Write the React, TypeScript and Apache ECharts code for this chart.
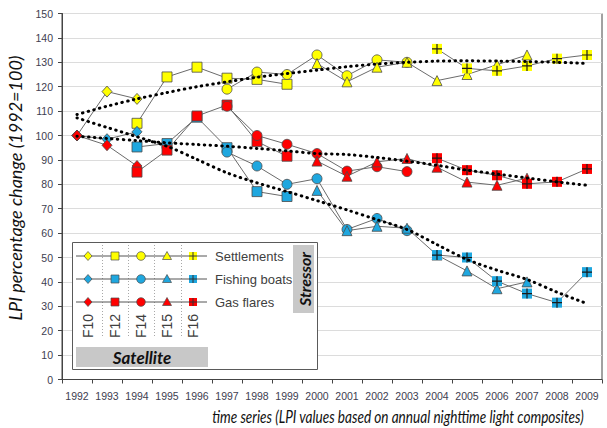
import React, { useEffect, useRef } from "react";
import * as echarts from "echarts";

const years = ["1992","1993","1994","1995","1996","1997","1998","1999","2000","2001","2002","2003","2004","2005","2006","2007","2008","2009"];
const yTicks = { min: 0, max: 150, interval: 10 };
const _ = null;

// Settlements
const setF10 = [100, 118, 115, _, _, _, _, _, _, _, _, _, _, _, _, _, _, _];
const setF12 = [_, _, 105, 124, 128, 123.5, 123, 121, _, _, _, _, _, _, _, _, _, _];
const setF14 = [_, _, _, _, _, 119, 126, 125, 133, 124.5, 131, 130, _, _, _, _, _, _];
const setF15 = [_, _, _, _, _, _, _, _, 129.5, 122, 128, 130, 122.5, 125, 129, 133, _, _];
const setF16 = [_, _, _, _, _, _, _, _, _, _, _, _, 135.5, 127.5, 126.5, 128.5, 131.5, 133];
// Fishing boats
const fishF10 = [100, 98.5, 101.5, _, _, _, _, _, _, _, _, _, _, _, _, _, _, _];
const fishF12 = [_, _, 95.3, 96.7, 107.5, 95, 77, 75, _, _, _, _, _, _, _, _, _, _];
const fishF14 = [_, _, _, _, _, 93.2, 87.5, 80, 82.3, 61.5, 66, 61, _, _, _, _, _, _];
const fishF15 = [_, _, _, _, _, _, _, _, 77.5, 61, 62.8, 62, 51, 44.5, 37.2, 40, _, _];
const fishF16 = [_, _, _, _, _, _, _, _, _, _, _, _, 51, 50, 40.3, 35.2, 31.5, 44];
// Gas flares
const gasF10 = [100, 96, 87.5, _, _, _, _, _, _, _, _, _, _, _, _, _, _, _];
const gasF12 = [_, _, 85, 94, 108, 112.5, 97.5, 91.5, _, _, _, _, _, _, _, _, _, _];
const gasF14 = [_, _, _, _, _, 112, 100, 96.4, 92.6, 85.4, 87.2, 85.2, _, _, _, _, _, _];
const gasF15 = [_, _, _, _, _, _, _, _, 89.5, 83.3, 89.2, 90.6, 87, 80.9, 79.6, 82.5, _, _];
const gasF16 = [_, _, _, _, _, _, _, _, _, _, _, _, 90.7, 85.8, 83.7, 80.2, 81, 86.3];
// Trend lines
const setTrend = [108.6, 112, 115, 117.6, 120, 122, 123.9, 125.4, 126.8, 128.2, 129.3, 130, 130.5, 130.6, 130.5, 130.3, 130, 129.5];
const fishTrend = [107.2, 103.3, 99.5, 95.6, 90.2, 84.7, 80.6, 77, 73.3, 69.5, 65.5, 61.5, 55.3, 49.2, 44.8, 41, 35.8, 31.1];
const gasTrend = [99.7, 98.8, 97.9, 97, 96.3, 95.6, 94.7, 93.7, 92.6, 92.2, 91, 89.5, 87.8, 85.8, 84.2, 82.6, 81, 79.6];

const stressors = ["Settlements", "Fishing boats", "Gas flares"];
const satellites = ["F10", "F12", "F14", "F15", "F16"];

const YELLOW = "#ffff00";
const BLUE = "#1fa7df";
const RED = "#ff0000";
const CROSS = "path://M4.4,0H5.6V4.4H10V5.6H5.6V10H4.4V5.6H0V4.4H4.4Z";

function mk(name: string, data: any[], symbol: string, size: any, color: string, border = true) {
  return {
    type: "line", name, data, symbol, symbolSize: size, showSymbol: true, silent: true,
    lineStyle: { color: "#6b6b6b", width: 1 },
    itemStyle: { color, borderColor: border ? "#4a4a4a" : color, borderWidth: border ? 0.8 : 0 },
    z: 3,
  };
}
function cross(name: string, data: any[]) {
  return {
    type: "line", name: name + "+", data, symbol: CROSS, symbolSize: 10, showSymbol: true, silent: true,
    lineStyle: { width: 0, opacity: 0 }, itemStyle: { color: "#1a1a1a", borderWidth: 0 }, z: 4,
  };
}
function group(name: string, color: string, f10: any[], f12: any[], f14: any[], f15: any[], f16: any[]) {
  return [
    mk(name + " F10", f10, "diamond", [10, 11], color),
    mk(name + " F12", f12, "rect", 10, color),
    mk(name + " F14", f14, "circle", 10, color),
    mk(name + " F15", f15, "triangle", 10, color),
    mk(name + " F16", f16, "rect", 10, color, false),
    cross(name + " F16", f16),
  ];
}
function trend(name: string, data: number[]) {
  return {
    type: "line", name, data, symbol: "none", smooth: 0.3, silent: true, z: 5,
    lineStyle: { color: "#000", width: 3, type: [0.5, 5.3], cap: "round" },
  };
}

function legendGraphics() {
  const els: any[] = [];
  const bx = 72, by = 242;
  els.push({ type: "rect", shape: { x: bx + 0.5, y: by + 0.5, width: 245, height: 127 }, style: { fill: "#fff", stroke: "#5a5a5a", lineWidth: 1 }, z: 10 });
  const rows = [256, 279, 302];
  const colors = [YELLOW, BLUE, RED];
  const cols = [88, 115, 141, 167, 193];
  [102, 128, 154, 181].forEach((x) => {
    els.push({ type: "line", shape: { x1: x + 0.5, y1: 245, x2: x + 0.5, y2: 338 }, style: { stroke: "#a8a8a8", lineWidth: 1, lineDash: [1, 2] }, z: 11 });
  });
  rows.forEach((y, i) => {
    const c = colors[i];
    els.push({ type: "line", shape: { x1: 76, y1: y, x2: 207, y2: y }, style: { stroke: "#555", lineWidth: 1 }, z: 12 });
    const st = { fill: c, stroke: "#4a4a4a", lineWidth: 0.7 };
    let x = cols[0];
    els.push({ type: "polygon", shape: { points: [[x, y - 4.5], [x + 4, y], [x, y + 4.5], [x - 4, y]] }, style: st, z: 13 });
    x = cols[1];
    els.push({ type: "rect", shape: { x: x - 4, y: y - 4, width: 8, height: 8 }, style: st, z: 13 });
    x = cols[2];
    els.push({ type: "circle", shape: { cx: x, cy: y, r: 4.3 }, style: st, z: 13 });
    x = cols[3];
    els.push({ type: "polygon", shape: { points: [[x, y - 4.5], [x + 4.5, y + 3.5], [x - 4.5, y + 3.5]] }, style: st, z: 13 });
    x = cols[4];
    els.push({ type: "rect", shape: { x: x - 4, y: y - 4, width: 8, height: 8 }, style: { fill: c }, z: 13 });
    els.push({ type: "rect", shape: { x: x - 0.5, y: y - 4, width: 1, height: 8 }, style: { fill: "#333" }, z: 14 });
    els.push({ type: "rect", shape: { x: x - 4, y: y - 0.5, width: 8, height: 1 }, style: { fill: "#333" }, z: 14 });
    els.push({ type: "text", x: 215, y, style: { text: stressors[i], fill: "#404040", font: "13px 'Liberation Sans', Arial, sans-serif", verticalAlign: "middle", align: "left" }, z: 13 });
  });
  cols.forEach((x, i) => {
    els.push({ type: "text", x, y: 326, rotation: Math.PI / 2, style: { text: satellites[i], fill: "#404040", font: "14px 'Liberation Sans', Arial, sans-serif", align: "center", verticalAlign: "middle", backgroundColor: "#fff" }, z: 13 });
  });
  els.push({ type: "rect", shape: { x: 293, y: 245, width: 21, height: 68 }, style: { fill: "#c8c8c8" }, z: 12 });
  els.push({ type: "text", x: 304, y: 279, rotation: Math.PI / 2, style: { text: "Stressor", fill: "#111", font: "italic bold 16px Lato, 'Open Sans', sans-serif", align: "center", verticalAlign: "middle" }, z: 13 });
  els.push({ type: "rect", shape: { x: 76, y: 347, width: 132, height: 20 }, style: { fill: "#c8c8c8" }, z: 12 });
  els.push({ type: "text", x: 142, y: 357, style: { text: "Satellite", fill: "#111", font: "italic bold 17px Lato, 'Open Sans', sans-serif", align: "center", verticalAlign: "middle" }, z: 13 });
  return els;
}

export default function App() {
  const ref = useRef<HTMLDivElement>(null);
  useEffect(() => {
    if (!ref.current) return;
    const chart = echarts.init(ref.current, null, { renderer: "svg" });
    chart.setOption({
      animation: false,
      backgroundColor: "#fff",
      grid: { left: 62, top: 13.5, right: 5, bottom: 48.5, show: true, borderColor: "#444", borderWidth: 1 },
      xAxis: {
        type: "category", data: years, boundaryGap: true,
        axisLine: { lineStyle: { color: "#444", width: 1 } },
        axisTick: { show: true, interval: 0, length: 4, lineStyle: { color: "#444" } },
        axisLabel: { interval: 0, fontSize: 10.5, color: "#404050", fontFamily: "'Liberation Sans Narrow', 'Liberation Sans', Arial, sans-serif", margin: 11 },
        splitLine: { show: false },
      },
      yAxis: {
        type: "value", min: yTicks.min, max: yTicks.max, interval: yTicks.interval,
        axisLine: { show: true, lineStyle: { color: "#444", width: 1 } },
        axisTick: { show: true, length: 4, lineStyle: { color: "#444" } },
        axisLabel: { fontSize: 10.5, color: "#404050", fontFamily: "'Liberation Sans Narrow', 'Liberation Sans', Arial, sans-serif", margin: 9 },
        splitLine: { show: true, lineStyle: { color: "#dcdcdc", width: 1 } },
      },
      series: [
        ...group("Settlements", YELLOW, setF10, setF12, setF14, setF15, setF16),
        ...group("Fishing boats", BLUE, fishF10, fishF12, fishF14, fishF15, fishF16),
        ...group("Gas flares", RED, gasF10, gasF12, gasF14, gasF15, gasF16),
        trend("Settlements trend", setTrend),
        trend("Fishing boats trend", fishTrend),
        trend("Gas flares trend", gasTrend),
      ],
      graphic: [
        ...legendGraphics(),
        { type: "text", x: 15, y: 188, rotation: Math.PI / 2, style: { text: "LPI percentage change (1992=100)", fill: "#111", font: "italic 18px Lato, 'Open Sans', sans-serif", align: "center", verticalAlign: "middle" }, z: 20 },
        { type: "text", x: 398, y: 416, scaleX: 0.8, style: { text: "time series (LPI values based on annual nighttime light composites)", fill: "#111", font: "italic 17px Lato, 'Open Sans', sans-serif", align: "center", verticalAlign: "middle" }, z: 20 },
      ],
    });
    return () => chart.dispose();
  }, []);
  return <div ref={ref} style={{ position: "fixed", left: 0, top: 0, width: 607, height: 428 }} />;
}
